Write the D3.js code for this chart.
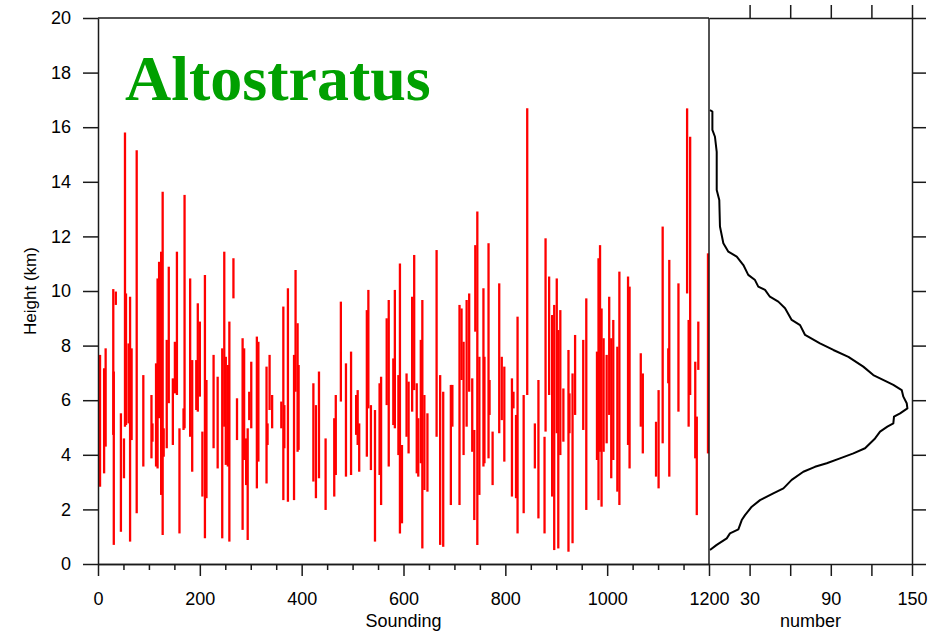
<!DOCTYPE html>
<html>
<head>
<meta charset="utf-8">
<script src="https://cdn.jsdelivr.net/npm/d3@7"></script>
<style>
	body { margin: 0; background: #fff; }
	svg { display: block; }
	.axis path, .axis line { stroke: #1a1a1a; stroke-width: 1.5; }
	.axis text { font-family: "Liberation Sans", Arial, sans-serif; font-size: 18px; fill: #000; }
	.label { font-family: "Liberation Sans", Arial, sans-serif; font-size: 18px; fill: #000; }
</style>
</head>
<body>
<div id="chart"></div>
<script>
// cloud layers: sounding index, base (km), top (km)
const soundings = [4,12,15,30,31,35,45,51,53,55,60,63,66,76,89,105,107,114,117,120,124,127,129,135,139,147,151,155,160,168,170,181,185,193,196,200,205,210,213,227,235,244,248,251,255,258,266,273,284,287,291,294,297,301,312,315,331,333,337,342,360,364,366,373,385,388,392,
	394,423,428,434,447,464,467,477,487,497,507,510,513,528,531,536,544,553,556,567,571,580,583,590,593,597,606,610,617,621,626,629,634,637,641,647,665,672,678,693,696,710,714,718,724,729,735,739,741,745,749,757,759,767,769,775,788,
	793,798,813,816,821,824,836,843,858,865,877,879,886,892,896,901,904,908,914,924,926,932,937,953,959,980,983,986,989,993,999,1004,1008,1012,1020,1024,1041,1044,1066,1070,1096,1101,1109,1120,1122,1140,1157,1160,1163,1173,1176,1179,1198];
const cloudBase = [2.83,3.32,4.30,4.73,0.70,9.49,1.18,3.14,5.03,5.09,5.15,0.82,4.54,1.86,3.57,3.87,4.48,3.57,3.50,5.34,2.53,1.06,3.93,4.24,5.89,4.36,6.25,6.19,1.12,4.91,4.97,4.66,3.38,5.64,5.58,6.13,2.47,0.94,2.41,4.24,3.50,0.94,5.03,3.63,3.57,0.82,9.73,4.54,1.25,3.81,2.89,0.88,5.27,4.97,2.77,3.75,2.95,4.36,5.64,4.97,4.97,2.34,4.24,2.28,2.34,6.31,4.11,
	4.18,3.02,2.41,3.14,1.98,2.47,3.26,5.95,3.20,3.26,4.73,4.36,3.38,3.93,5.70,3.44,0.82,3.26,2.16,5.82,3.57,5.09,4.97,3.99,1.12,1.49,4.66,4.05,5.58,6.37,3.32,3.20,3.69,0.57,2.71,2.65,4.66,0.70,0.63,2.16,5.03,2.16,6.74,3.99,5.03,6.31,4.11,1.61,8.51,0.70,2.53,3.57,3.69,3.87,5.46,2.89,4.79,
	5.27,3.75,2.47,5.70,2.41,1.12,1.86,6.19,3.50,1.67,1.12,4.85,6.19,2.47,0.51,4.79,0.57,3.99,4.48,0.45,4.79,0.76,5.46,4.91,1.98,3.81,2.34,4.11,2.10,4.11,4.42,5.46,3.14,3.81,2.65,2.16,4.36,3.50,5.03,4.05,3.20,2.77,4.42,6.62,3.20,5.58,9.91,5.03,6.19,3.87,1.79,7.11,4.05];
const cloudTop = [7.66,7.17,7.90,10.07,7.05,9.98,5.52,4.60,15.81,9.91,8.08,9.79,7.90,15.16,6.92,6.19,5.15,7.35,10.46,11.07,11.44,13.64,4.97,8.21,10.89,6.80,8.14,11.44,4.97,5.70,13.52,10.46,7.47,7.47,9.55,8.88,4.85,10.59,6.74,7.66,6.86,7.90,11.44,7.59,7.29,8.88,11.20,6.07,8.27,7.90,4.60,4.97,6.31,7.41,8.33,8.14,7.23,5.15,7.66,6.19,5.95,9.43,5.82,10.10,7.66,10.77,8.82,
	7.29,6.62,5.82,7.05,4.60,5.34,6.19,9.61,7.35,7.78,6.19,6.37,5.15,9.30,10.04,5.82,5.64,6.62,6.86,9.00,9.67,7.53,10.04,6.92,11.01,4.36,6.98,6.68,9.79,11.32,6.62,5.34,8.21,9.67,6.19,5.52,11.50,6.92,6.31,6.56,6.56,9.49,9.36,8.14,9.67,9.91,6.80,4.91,11.68,12.91,7.59,10.10,7.59,11.75,6.74,4.85,10.28,
	7.59,7.23,6.80,6.31,5.46,9.06,6.19,16.69,5.15,6.74,4.66,11.93,10.53,9.12,9.49,10.46,8.57,9.30,6.43,7.84,6.25,6.98,8.39,8.21,9.73,7.78,11.20,11.68,9.36,8.27,7.66,9.79,8.27,8.94,7.96,10.71,10.53,10.16,7.72,6.98,5.21,6.37,12.36,7.90,11.14,10.28,16.69,8.94,15.65,7.41,5.40,8.88,11.38];

// vertical profile in the right panel: height (km) and number
const profileHeight = [16.63,16.57,15.9,15.65,15.1,13.7,13.33,12.36,11.75,11.44,11.26,10.95,10.59,10.4,10.16,10.04,9.79,9.61,9.37,8.94,8.75,8.39,8.08,7.84,7.59,7.23,6.92,6.68,6.56,6.37,6.13,5.89,5.70,5.52,5.40,5.15,5.03,4.85,4.60,4.24,4.05,3.87,3.69,3.56,3.38,3.08,2.77,2.59,2.34,2.10,1.79,1.61,1.27,1.12,0.94,0.70,0.51];
const profileCount = [0.7,2.5,2.5,4.4,5.7,5.7,7.6,8.1,10.6,14.3,20.5,25.4,29,34,36.4,41.4,45,51.2,56.2,61.1,67.3,71,82,91.9,103,114,121.4,131.3,136.2,142.4,143.6,146.1,146.6,141.2,136.7,136.2,131.8,126.4,122.7,115.3,106.7,96.8,87,78.3,69.7,61.1,55,47.5,37.7,31.6,26.6,24.2,21.7,15.5,13.1,5.7,0.7];

const heightTicks = [0,2,4,6,8,10,12,14,16,18,20];
const soundingTicks = [0,200,400,600,800,1000,1200];
const soundingMinor = d3.range(0, 1201, 50);
const numberTicks = [30,60,90,120,150];
const numberLabels = [30,90,150];

const width = 948, height = 634;
const margin = {top:18, bottom:70, left:98};
const splitX = 709, rightEdge = 912;

const svg = d3.select('#chart').append('svg')
	.attr('width', width)
	.attr('height', height);

const x = d3.scaleLinear().domain([0,1200]).range([margin.left, splitX]);
const y = d3.scaleLinear().domain([0,20]).range([height - margin.bottom, margin.top]);
const xn = d3.scaleLinear().domain([0,150]).range([splitX, rightEdge]);

// red cloud layers
const layers = soundings.map((s,i) => ({s:s, base:cloudBase[i], top:cloudTop[i]}));
svg.append('g').attr('class','layers')
	.selectAll('line').data(layers).enter().append('line')
	.attr('x1', d => x(d.s)).attr('x2', d => x(d.s))
	.attr('y1', d => y(d.base)).attr('y2', d => y(d.top))
	.style('stroke','#ff0000')
	.style('stroke-width',2.3);

// profile curve
const profile = profileHeight.map((h,i) => ({h:h, n:profileCount[i]}));
svg.append('path')
	.datum(profile)
	.attr('d', d3.line().x(d => xn(d.n)).y(d => y(d.h)))
	.style('fill','none')
	.style('stroke','#000')
	.style('stroke-width',2)
	.style('stroke-linejoin','round');

// left panel axes
svg.append('g').attr('class','axis')
	.attr('transform', `translate(${margin.left},0)`)
	.call(d3.axisLeft(y).tickValues(heightTicks).tickSize(15).tickPadding(12).tickSizeOuter(0));

svg.append('g').attr('class','axis')
	.attr('transform', `translate(0,${y(0)})`)
	.call(d3.axisBottom(x).tickValues(soundingMinor.filter(v => v % 200 != 0)).tickSize(6).tickFormat('').tickSizeOuter(0));

svg.append('g').attr('class','axis')
	.attr('transform', `translate(0,${y(0)})`)
	.call(d3.axisBottom(x).tickValues(soundingTicks).tickSize(12).tickPadding(16).tickSizeOuter(0).tickFormat(d3.format('d')));

// right panel axes
svg.append('g').attr('class','axis')
	.attr('transform', `translate(0,${y(0)})`)
	.call(d3.axisBottom(xn).tickValues(numberTicks).tickSize(12).tickPadding(16).tickSizeOuter(0)
		.tickFormat(v => numberLabels.indexOf(v) > -1 ? v : ''));

svg.append('g').attr('class','axis')
	.attr('transform', `translate(0,${y(20)})`)
	.call(d3.axisTop(xn).tickValues(numberTicks).tickSize(13).tickFormat('').tickSizeOuter(0));

svg.append('g').attr('class','axis')
	.attr('transform', `translate(${rightEdge},0)`)
	.call(d3.axisRight(y).tickValues(heightTicks).tickSize(14).tickFormat('').tickSizeOuter(0));

// frame: top of left panel and divider
svg.append('line')
	.attr('x1', x(0)).attr('x2', splitX)
	.attr('y1', y(20)).attr('y2', y(20))
	.style('stroke','#1a1a1a').style('stroke-width',1.5);
svg.append('line')
	.attr('x1', splitX).attr('x2', splitX)
	.attr('y1', y(20)).attr('y2', y(0))
	.style('stroke','#1a1a1a').style('stroke-width',1.5);

// labels
svg.append('text').attr('class','label')
	.attr('x', (x(0) + splitX)/2).attr('y', 627)
	.attr('text-anchor','middle')
	.text('Sounding');

svg.append('text').attr('class','label')
	.attr('x', (splitX + rightEdge)/2).attr('y', 627)
	.attr('text-anchor','middle')
	.text('number');

svg.append('text').attr('class','label')
	.attr('transform', `translate(36,${(y(0)+y(20))/2}) rotate(-90)`)
	.attr('text-anchor','middle')
	.style('font-size','17px')
	.text('Height (km)');

svg.append('text')
	.attr('x', 125).attr('y', 100)
	.style('font-family','"Liberation Serif", "Times New Roman", serif')
	.style('font-weight','bold')
	.style('font-size','64px')
	.style('fill','#00a000')
	.text('Altostratus');
</script>
</body>
</html>
